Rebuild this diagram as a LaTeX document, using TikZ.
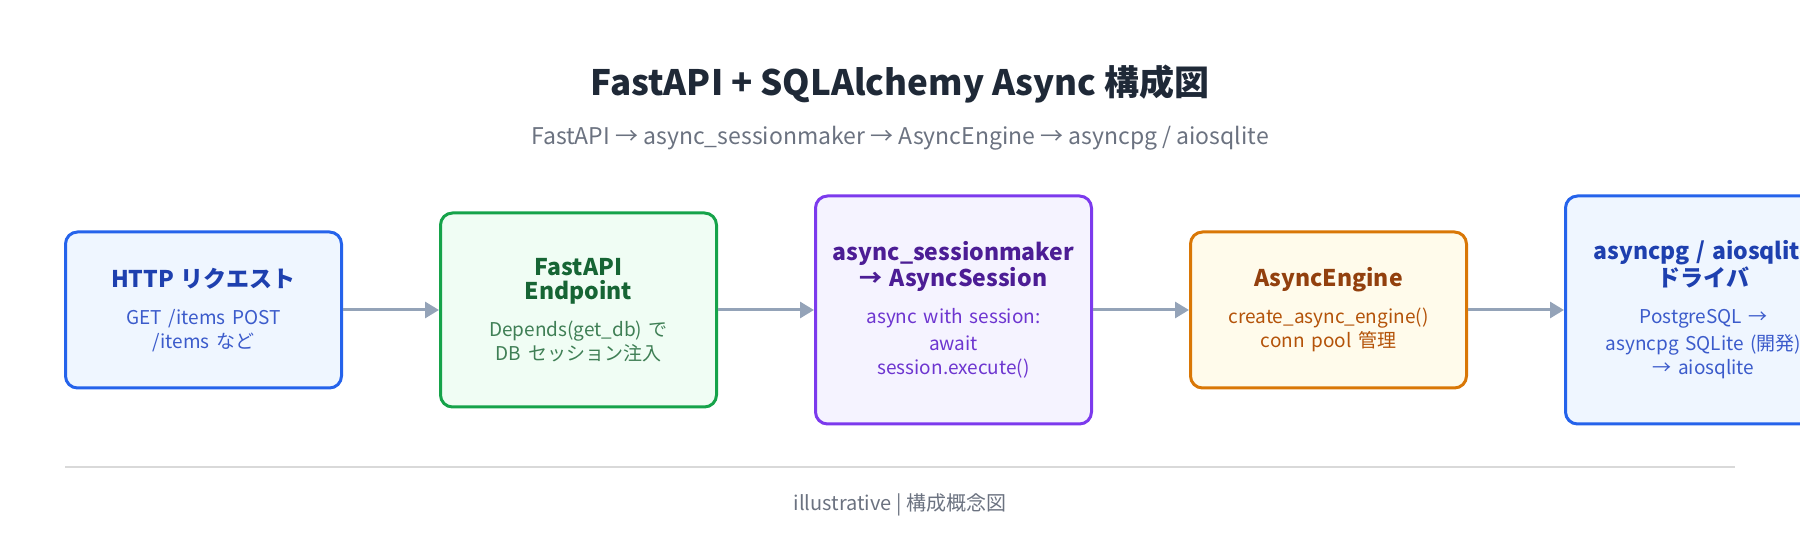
\documentclass[tikz,border=0pt]{standalone}
\usepackage{fontspec}
\setmainfont{Noto Sans CJK JP}
\usetikzlibrary{positioning}
\usetikzlibrary{arrows.meta}
\definecolor{bluedraw}{HTML}{2563EB}
\definecolor{bluefill}{HTML}{EFF6FF}
\definecolor{bluehead}{HTML}{1E40AF}
\definecolor{bluetext}{HTML}{3B5BCB}
\definecolor{greendraw}{HTML}{16A34A}
\definecolor{greenfill}{HTML}{F0FDF4}
\definecolor{greenhead}{HTML}{166534}
\definecolor{greentext}{HTML}{3F7F55}
\definecolor{purpledraw}{HTML}{7C3AED}
\definecolor{purplefill}{HTML}{F5F3FF}
\definecolor{purplehead}{HTML}{4C1D95}
\definecolor{purpletext}{HTML}{6D35D0}
\definecolor{orangedraw}{HTML}{D97706}
\definecolor{orangefill}{HTML}{FFFBEB}
\definecolor{orangehead}{HTML}{92400E}
\definecolor{orangetext}{HTML}{B45309}
\definecolor{arrowgray}{HTML}{94A3B8}
\definecolor{titlegray}{HTML}{1F2937}
\definecolor{subgray}{HTML}{6B7280}

\begin{document}
\begin{tikzpicture}[
        x=0.5pt, y=-0.5pt,
        box/.style = {
            draw=#1draw,
            fill=#1fill,
            line width = 1.5pt,
            rounded corners = 6pt,
            minimum width = 138pt,
            text width = 126pt,
            align = center,
            inner sep = 0pt
        },
        flow/.style = {
            draw=arrowgray,
            line width = 1.5pt,
            -{Triangle[length=7pt, width=8pt]}
        },
        node distance = {48pt}
    ]
    \useasboundingbox (0,0) rectangle (1800,560);
    \clip (0,0) rectangle (1800,560);

    % title
    \node[font=\fontsize{17.5}{20}\selectfont\bfseries, text=titlegray] (title) at (900,84) {FastAPI + SQLAlchemy Async 構成図};
    \node[font=\fontsize{11.5}{13}\selectfont, text=subgray] (subtitle) at (900,138) {FastAPI → async\_sessionmaker → AsyncEngine → asyncpg / aiosqlite};

    % boxes
    \node[box=blue, minimum height = 78pt] (http) at (203.5,310) {%
        {\color{bluehead}\fontsize{11.5}{17}\selectfont\bfseries HTTP リクエスト}\\[5pt]
        {\color{bluetext}\fontsize{9.5}{13.5}\selectfont GET /items POST\\ /items など}};
    \node[box=green, minimum height = 97pt, right=of http] (endpoint) {%
        {\color{greenhead}\fontsize{11.5}{17}\selectfont\bfseries FastAPI\\ Endpoint}\\[5pt]
        {\color{greentext}\fontsize{9.5}{13.5}\selectfont Depends(get\_db) で\\ DB セッション注入}};
    \node[box=purple, minimum height = 114pt, right=of endpoint] (session) {%
        {\color{purplehead}\fontsize{11.5}{17}\selectfont\bfseries async\_sessionmaker\\ → AsyncSession}\\[5pt]
        {\color{purpletext}\fontsize{9.5}{13.5}\selectfont async with session:\\ await\\ session.execute()}};
    \node[box=orange, minimum height = 78pt, right=of session] (engine) {%
        {\color{orangehead}\fontsize{11.5}{17}\selectfont\bfseries AsyncEngine}\\[5pt]
        {\color{orangetext}\fontsize{9.5}{13.5}\selectfont create\_async\_engine()\\ conn pool 管理}};
    \node[box=blue, minimum height = 114pt, right=of engine] (driver) {%
        {\color{bluehead}\fontsize{11.5}{17}\selectfont\bfseries asyncpg / aiosqlite\\ ドライバ}\\[5pt]
        {\color{bluetext}\fontsize{9.5}{13.5}\selectfont PostgreSQL →\\ asyncpg SQLite (開発)\\ → aiosqlite}};

    \draw[flow] (http) -- (endpoint);
    \draw[flow] (endpoint) -- (session);
    \draw[flow] (session) -- (engine);
    \draw[flow] (engine) -- (driver);

    % footer
    \coordinate (ruleL) at (65,467);
    \coordinate (ruleR) at (1735,467);
    \draw[draw=gray!30, line width=0.6pt] (ruleL) -- (ruleR);
    \node[font=\fontsize{10}{12}\selectfont, text=subgray] (footer) at (900,505) {illustrative | 構成概念図};
\end{tikzpicture}
\end{document}
